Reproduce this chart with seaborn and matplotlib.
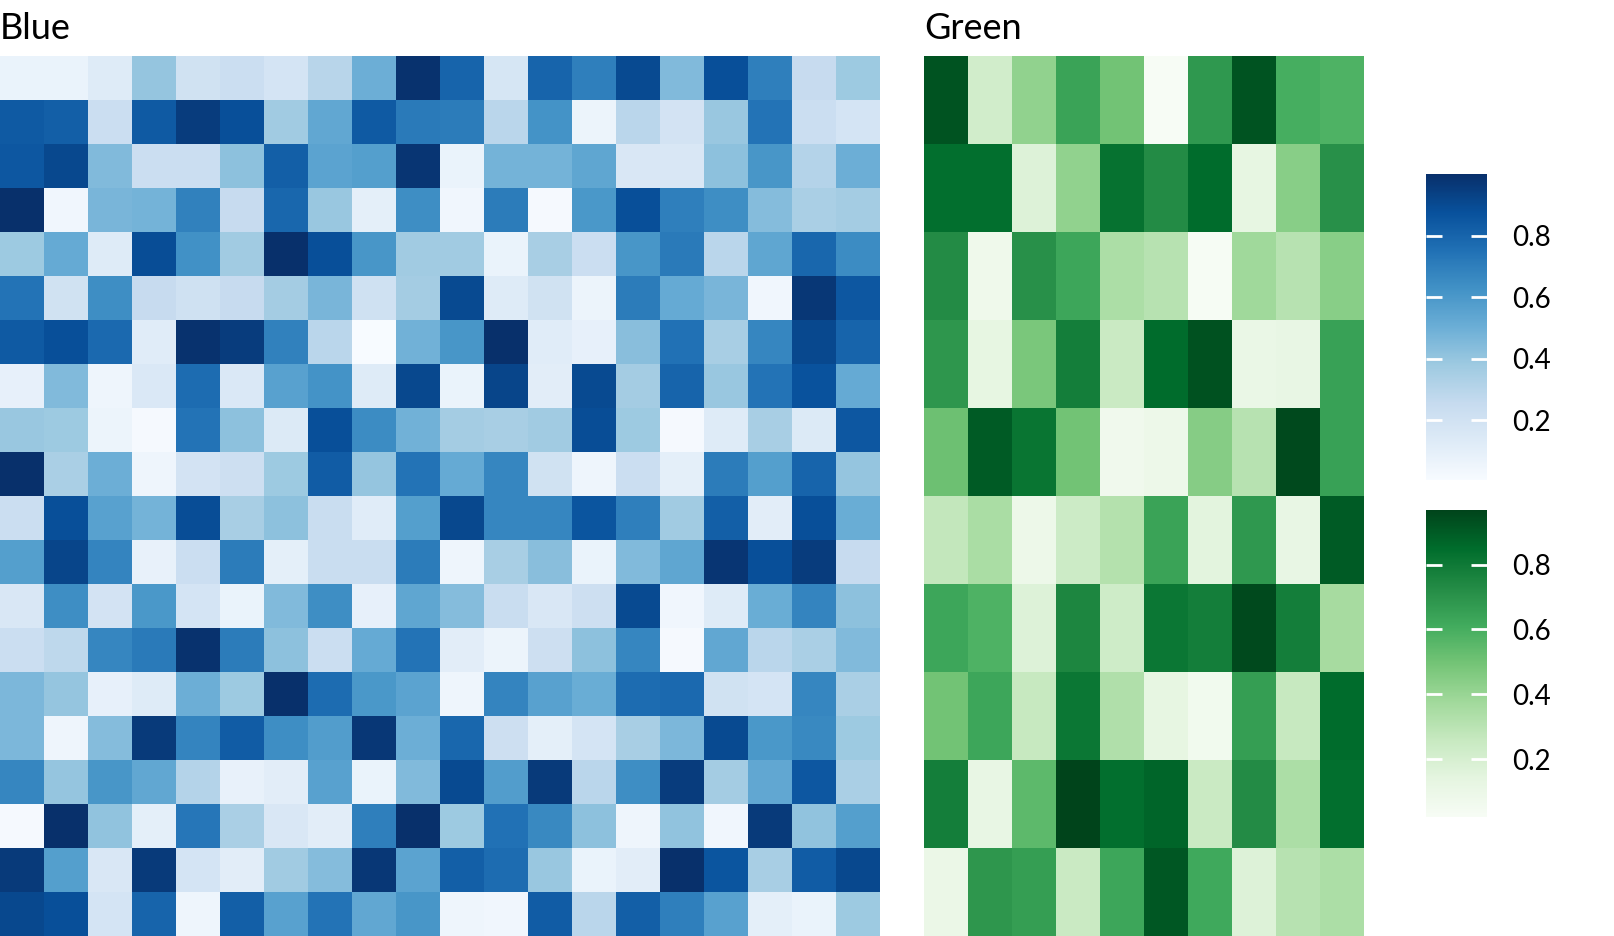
import numpy as np
import pandas as pd
import matplotlib
matplotlib.use("Agg")
import matplotlib.pyplot as plt
import seaborn as sns

blue_values = [
    [0.07, 0.07, 0.13, 0.40, 0.20, 0.23, 0.18, 0.30, 0.50, 0.99, 0.80, 0.17, 0.80, 0.70, 0.90, 0.45, 0.88, 0.70, 0.25, 0.38],
    [0.84, 0.82, 0.23, 0.84, 0.95, 0.88, 0.37, 0.53, 0.84, 0.72, 0.71, 0.29, 0.62, 0.06, 0.29, 0.19, 0.39, 0.74, 0.23, 0.18],
    [0.85, 0.91, 0.45, 0.23, 0.23, 0.42, 0.82, 0.55, 0.57, 0.98, 0.07, 0.48, 0.48, 0.54, 0.16, 0.16, 0.42, 0.61, 0.31, 0.50],
    [1.00, 0.04, 0.47, 0.48, 0.69, 0.25, 0.79, 0.39, 0.10, 0.64, 0.04, 0.71, 0.02, 0.60, 0.88, 0.70, 0.64, 0.44, 0.34, 0.36],
    [0.38, 0.52, 0.13, 0.89, 0.63, 0.37, 1.00, 0.88, 0.61, 0.37, 0.37, 0.07, 0.35, 0.23, 0.61, 0.72, 0.29, 0.54, 0.79, 0.65],
    [0.74, 0.20, 0.64, 0.25, 0.21, 0.25, 0.36, 0.47, 0.21, 0.36, 0.90, 0.13, 0.20, 0.06, 0.71, 0.52, 0.47, 0.04, 0.97, 0.85],
    [0.84, 0.88, 0.78, 0.12, 0.99, 0.95, 0.69, 0.29, 0.005, 0.49, 0.61, 1.00, 0.12, 0.09, 0.43, 0.75, 0.35, 0.67, 0.91, 0.80],
    [0.09, 0.45, 0.05, 0.15, 0.77, 0.15, 0.56, 0.62, 0.13, 0.91, 0.07, 0.92, 0.11, 0.90, 0.36, 0.80, 0.39, 0.74, 0.87, 0.52],
    [0.39, 0.38, 0.06, 0.02, 0.74, 0.42, 0.14, 0.88, 0.65, 0.49, 0.36, 0.35, 0.37, 0.89, 0.38, 0.02, 0.13, 0.35, 0.14, 0.85],
    [1.00, 0.34, 0.50, 0.05, 0.19, 0.22, 0.38, 0.83, 0.40, 0.74, 0.52, 0.67, 0.20, 0.05, 0.23, 0.10, 0.71, 0.57, 0.80, 0.40],
    [0.23, 0.88, 0.56, 0.48, 0.89, 0.35, 0.42, 0.24, 0.12, 0.57, 0.91, 0.67, 0.67, 0.86, 0.70, 0.37, 0.82, 0.11, 0.88, 0.51],
    [0.57, 0.92, 0.68, 0.08, 0.23, 0.71, 0.10, 0.24, 0.24, 0.71, 0.05, 0.35, 0.43, 0.07, 0.45, 0.54, 0.98, 0.88, 0.95, 0.25],
    [0.16, 0.64, 0.19, 0.60, 0.18, 0.07, 0.45, 0.64, 0.09, 0.54, 0.44, 0.24, 0.16, 0.22, 0.90, 0.04, 0.13, 0.51, 0.68, 0.42],
    [0.23, 0.28, 0.67, 0.72, 0.99, 0.71, 0.42, 0.23, 0.52, 0.74, 0.11, 0.06, 0.22, 0.42, 0.67, 0.02, 0.53, 0.29, 0.34, 0.45],
    [0.46, 0.40, 0.09, 0.13, 0.50, 0.38, 1.00, 0.77, 0.60, 0.55, 0.05, 0.68, 0.56, 0.51, 0.77, 0.78, 0.20, 0.18, 0.67, 0.34],
    [0.46, 0.05, 0.44, 0.96, 0.68, 0.83, 0.64, 0.58, 0.97, 0.50, 0.79, 0.22, 0.10, 0.18, 0.35, 0.46, 0.90, 0.60, 0.66, 0.38],
    [0.67, 0.40, 0.61, 0.53, 0.31, 0.08, 0.11, 0.56, 0.07, 0.45, 0.90, 0.58, 0.96, 0.29, 0.64, 0.95, 0.36, 0.53, 0.85, 0.34],
    [0.02, 1.00, 0.41, 0.10, 0.73, 0.34, 0.16, 0.11, 0.70, 1.00, 0.38, 0.75, 0.66, 0.42, 0.05, 0.41, 0.04, 0.96, 0.41, 0.57],
    [0.96, 0.57, 0.16, 0.96, 0.18, 0.11, 0.37, 0.44, 0.97, 0.55, 0.82, 0.77, 0.39, 0.07, 0.11, 1.00, 0.86, 0.35, 0.83, 0.91],
    [0.91, 0.88, 0.18, 0.80, 0.05, 0.82, 0.56, 0.74, 0.53, 0.61, 0.05, 0.04, 0.83, 0.29, 0.82, 0.70, 0.56, 0.10, 0.07, 0.38],
]

green_values = [
    [0.92, 0.22, 0.42, 0.64, 0.50, 0.022, 0.68, 0.92, 0.60, 0.58],
    [0.84, 0.84, 0.17, 0.42, 0.83, 0.73, 0.85, 0.13, 0.44, 0.71],
    [0.73, 0.08, 0.71, 0.63, 0.34, 0.31, 0.03, 0.38, 0.31, 0.44],
    [0.69, 0.13, 0.48, 0.78, 0.25, 0.85, 0.93, 0.11, 0.12, 0.65],
    [0.51, 0.90, 0.82, 0.50, 0.07, 0.09, 0.45, 0.31, 0.95, 0.65],
    [0.27, 0.35, 0.09, 0.24, 0.32, 0.64, 0.15, 0.68, 0.12, 0.90],
    [0.63, 0.58, 0.17, 0.75, 0.23, 0.81, 0.78, 0.95, 0.78, 0.36],
    [0.50, 0.63, 0.26, 0.81, 0.33, 0.13, 0.06, 0.66, 0.26, 0.85],
    [0.78, 0.12, 0.55, 0.968, 0.84, 0.87, 0.25, 0.73, 0.34, 0.84],
    [0.10, 0.69, 0.66, 0.25, 0.63, 0.91, 0.62, 0.17, 0.31, 0.34],
]

cbar_ticks = [0.2, 0.4, 0.6, 0.8]
cbar_ticklabels = ["0.2", "0.4", "0.6", "0.8"]
titles = ["Blue", "Green"]

sns.set_theme(style="white")
plt.rcParams["font.family"] = ["Lato", "DejaVu Sans"]

W, H = 1614, 936
fig = plt.figure(figsize=(W / 100, H / 100), dpi=100)

def px_axes(x0, y0, x1, y1):
    return fig.add_axes([x0 / W, 1 - y1 / H, (x1 - x0) / W, (y1 - y0) / H])

ax_blue = px_axes(0, 56, 880, 936)
ax_green = px_axes(924, 56, 1364, 936)
cax_blue = px_axes(1426, 174, 1487, 480)
cax_green = px_axes(1426, 510, 1487, 817)

sns.heatmap(pd.DataFrame(blue_values), ax=ax_blue, cmap="Blues", cbar_ax=cax_blue,
            xticklabels=False, yticklabels=False)
sns.heatmap(pd.DataFrame(green_values), ax=ax_green, cmap="Greens", cbar_ax=cax_green,
            xticklabels=False, yticklabels=False)

for ax, t in zip([ax_blue, ax_green], titles):
    ax.set_title(t, loc="left", fontsize=26, pad=12, color="black")

for cax in [cax_blue, cax_green]:
    cax.set_axisbelow(False)
    cax.set_yticks(cbar_ticks)
    cax.set_yticklabels(cbar_ticklabels)
    cax.tick_params(axis="y", direction="in", length=11.5, width=2, color="white",
                    left=True, right=True, labelleft=False, labelright=True,
                    labelsize=20, labelcolor="black", pad=18)
    for tick in cax.yaxis.get_major_ticks():
        tick.tick1line.set_zorder(10)
        tick.tick2line.set_zorder(10)
    cax.yaxis.set_zorder(10)
    for s in cax.spines.values():
        s.set_visible(False)

fig.savefig("out.png", dpi=100, facecolor="white")
